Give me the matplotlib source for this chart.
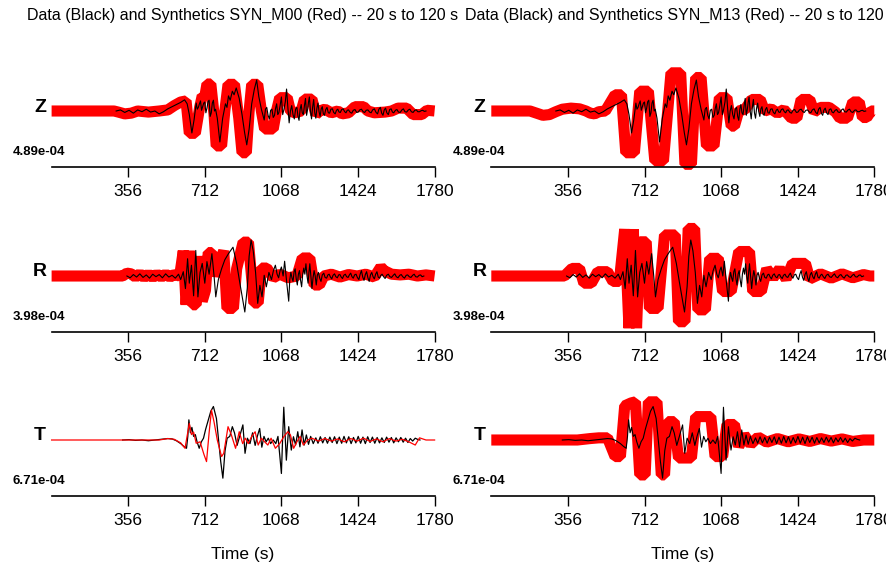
import matplotlib
matplotlib.use('Agg')
import matplotlib.pyplot as plt

plt.rcParams['font.family'] = ['Liberation Sans', 'DejaVu Sans']

# observed data (black), normalised amplitude, time in s
z_obs_t = [300, 320, 340, 360, 380, 400, 420, 440, 460, 480, 500, 520, 540, 560, 580, 600, 618, 630, 640, 652,
           662, 672, 677, 682, 687, 692, 697, 702, 707, 712, 717, 722, 727, 732, 737, 742, 747, 752, 757, 762,
           770, 782, 795, 808, 815, 822, 830, 840, 848, 858, 872, 885, 897, 907, 918, 930, 942, 953, 963, 975,
           988, 994, 1000, 1006, 1012, 1018, 1024, 1030, 1036, 1041, 1046, 1051, 1056, 1062, 1068, 1074, 1080,
           1086, 1092, 1098, 1104, 1110, 1116, 1122, 1128, 1134, 1140, 1145, 1150, 1155, 1160, 1165, 1170, 1175,
           1180, 1185, 1190, 1194, 1198, 1203, 1208, 1213, 1218, 1223, 1228, 1233, 1238, 1243, 1248, 1253, 1258,
           1263, 1268, 1274, 1280, 1286, 1292, 1298, 1305, 1311, 1318, 1324, 1330, 1336, 1342, 1348, 1355, 1362,
           1368, 1374, 1380, 1388, 1395, 1402, 1410, 1418, 1425, 1432, 1440, 1448, 1455, 1462, 1470, 1478, 1485,
           1492, 1500, 1508, 1515, 1521, 1528, 1534, 1540, 1546, 1552, 1558, 1565, 1571, 1578, 1584, 1590, 1598,
           1605, 1612, 1620, 1628, 1635, 1642, 1650, 1658, 1665, 1672, 1680, 1688, 1695, 1702, 1710, 1718, 1725,
           1732, 1740]
z_obs = [0.00, 0.03, -0.04, 0.02, -0.06, 0.03, -0.02, 0.05, -0.03, 0.00, -0.08, -0.02, 0.06, 0.12, 0.18, 0.24,
         0.31, 0.20, -0.10, -0.61, -0.25, 0.22, 0.05, 0.10, 0.20, 0.28, 0.02, 0.12, 0.22, 0.25, -0.05, 0.08,
         0.26, 0.30, -0.15, -0.05, 0.22, 0.30, 0.00, 0.05, -0.20, -0.86, -0.20, 0.20, 0.10, 0.42, 0.30, 0.55,
         0.45, 0.64, 0.35, -0.10, -0.60, -0.94, -0.50, 0.20, 0.60, 0.86, 0.40, 0.05, -0.25, 0.05, 0.10, -0.12,
         -0.22, 0.02, 0.05, -0.18, -0.12, 0.08, 0.20, -0.10, -0.05, 0.15, 0.39, -0.10, 0.05, 0.25, 0.61, 0.10,
         -0.33, 0.00, 0.15, -0.10, -0.22, 0.05, 0.10, -0.15, -0.26, 0.05, 0.18, -0.05, -0.10, 0.15, 0.35, -0.12,
         0.05, 0.25, 0.39, 0.00, -0.22, 0.10, 0.32, -0.05, -0.20, 0.08, 0.22, -0.02, -0.15, 0.06, 0.12, -0.08,
         -0.12, 0.04, 0.10, -0.05, -0.06, 0.05, 0.06, -0.04, -0.08, 0.02, 0.05, -0.03, -0.04, 0.04, 0.06, -0.02,
         -0.05, 0.02, 0.03, -0.04, -0.06, 0.02, 0.04, -0.04, -0.03, 0.03, 0.05, -0.02, -0.04, 0.02, 0.03, -0.03,
         -0.05, 0.03, 0.06, -0.04, -0.08, 0.05, 0.10, -0.06, -0.12, 0.03, 0.08, -0.05, -0.10, 0.04, 0.06, -0.03,
         -0.05, 0.02, 0.04, -0.03, -0.04, 0.03, 0.06, -0.02, -0.03, 0.03, 0.05, -0.02, -0.04, 0.02, 0.03, -0.02,
         -0.02, 0.01, 0.02, -0.01, 0.00]

r_obs_t = [350, 365, 380, 395, 410, 425, 440, 455, 470, 485, 500, 515, 530, 545, 560, 575, 590, 600, 612, 622,
           632, 640, 650, 660, 670, 680, 690, 700, 712, 722, 732, 745, 755, 763, 775, 790, 805, 822, 843, 860,
           875, 888, 898, 910, 918, 927, 937, 948, 958, 968, 978, 988, 998, 1010, 1022, 1031, 1040, 1048, 1055,
           1062, 1068, 1076, 1083, 1093, 1102, 1107, 1112, 1117, 1122, 1127, 1132, 1137, 1142, 1147, 1152, 1157,
           1162, 1167, 1172, 1177, 1182, 1187, 1192, 1196, 1200, 1205, 1210, 1215, 1220, 1225, 1230, 1235, 1240,
           1246, 1252, 1258, 1265, 1271, 1278, 1284, 1290, 1296, 1302, 1308, 1315, 1321, 1328, 1334, 1340, 1346,
           1352, 1358, 1365, 1371, 1378, 1384, 1390, 1396, 1402, 1408, 1415, 1421, 1428, 1434, 1440, 1446, 1452,
           1458, 1464, 1470, 1476, 1482, 1488, 1494, 1500, 1506, 1512, 1518, 1524, 1530, 1536, 1543, 1550, 1557,
           1565, 1572, 1580, 1588, 1595, 1602, 1610, 1618, 1625, 1632, 1640, 1648, 1655, 1662, 1670, 1678, 1685,
           1692, 1700, 1708, 1715, 1722, 1730]
r_obs = [0.00, -0.05, 0.04, -0.03, 0.06, -0.04, 0.03, -0.06, 0.05, -0.02, 0.04, -0.05, 0.06, -0.03, 0.02, -0.06,
         0.05, -0.10, 0.12, -0.35, 0.48, -0.20, 0.30, -0.55, 0.71, -0.58, 0.10, 0.35, -0.20, 0.40, 0.05, 0.62,
         0.00, -0.58, -0.10, 0.20, 0.45, 0.62, 0.80, 0.35, -0.20, -0.65, -1.00, -0.30, 0.55, 1.00, 0.70, 0.10,
         -0.76, -0.26, -0.58, 0.02, -0.30, 0.10, -0.10, 0.15, 0.30, 0.05, -0.05, 0.15, 0.25, 0.00, 0.41, -0.20,
         -0.70, -0.10, 0.10, -0.05, -0.15, 0.12, 0.20, -0.08, -0.25, 0.05, 0.15, -0.12, -0.30, 0.05, 0.22, 0.05,
         0.34, 0.00, -0.20, 0.10, 0.34, 0.00, -0.35, -0.05, 0.15, 0.00, -0.25, 0.02, 0.10, -0.06, -0.15, 0.03,
         0.08, -0.04, -0.06, 0.03, 0.05, -0.03, -0.08, 0.02, 0.06, -0.02, -0.05, 0.03, 0.04, -0.03, -0.07, 0.02,
         0.05, -0.02, -0.04, 0.03, 0.08, -0.02, -0.06, 0.03, 0.05, -0.04, -0.10, 0.05, 0.15, -0.03, -0.12, 0.04,
         0.12, -0.05, -0.15, 0.03, 0.10, -0.02, -0.08, 0.05, 0.12, -0.03, -0.06, 0.02, 0.05, -0.02, -0.07, 0.02,
         0.05, -0.02, -0.04, 0.02, 0.06, -0.02, -0.05, 0.02, 0.04, -0.02, -0.06, 0.02, 0.03, -0.02, -0.04, 0.02,
         0.05, -0.02, -0.03, 0.02, 0.03, -0.02, 0.00]

t_obs_t = [330, 360, 390, 420, 450, 480, 510, 540, 560, 580, 600, 615, 627, 633, 638, 645, 652, 660, 668, 676,
           686, 696, 706, 716, 728, 740, 752, 766, 776, 786, 796, 806, 816, 828, 840, 850, 862, 874, 889, 899,
           910, 922, 934, 946, 956, 967, 977, 987, 997, 1007, 1018, 1030, 1042, 1052, 1060, 1068, 1074, 1079,
           1091, 1102, 1114, 1124, 1134, 1144, 1154, 1164, 1174, 1184, 1194, 1204, 1216, 1228, 1238, 1249, 1260,
           1271, 1282, 1293, 1304, 1315, 1326, 1337, 1348, 1359, 1370, 1381, 1392, 1403, 1414, 1425, 1436, 1447,
           1458, 1469, 1480, 1491, 1502, 1513, 1524, 1535, 1546, 1557, 1568, 1579, 1590, 1601, 1612, 1623, 1634,
           1645, 1656, 1667, 1678, 1690, 1700, 1712]
t_obs = [0.00, 0.01, -0.01, 0.00, -0.02, 0.00, 0.02, 0.04, 0.03, -0.02, -0.10, -0.18, -0.23, 0.10, 0.56, 0.20,
         0.35, 0.10, 0.15, -0.05, -0.23, -0.05, 0.05, 0.30, 0.55, 0.80, 0.93, 0.60, 0.00, -0.60, -1.06, -0.30,
         0.05, 0.10, 0.37, 0.20, -0.15, 0.10, 0.42, -0.37, 0.05, -0.10, 0.20, -0.15, 0.10, 0.32, -0.20, 0.10,
         -0.05, 0.05, -0.10, 0.00, -0.10, 0.10, -0.40, -0.93, 0.10, 0.91, -0.56, 0.37, -0.28, 0.09, -0.14, 0.23,
         -0.19, 0.28, -0.14, 0.14, -0.12, 0.10, -0.10, 0.06, -0.09, 0.09, -0.08, 0.07, -0.09, 0.08, -0.07, 0.09,
         -0.10, 0.08, -0.09, 0.10, -0.08, 0.09, -0.10, 0.07, -0.08, 0.10, -0.09, 0.08, -0.10, 0.09, -0.07, 0.08,
         -0.09, 0.07, -0.08, 0.06, -0.07, 0.08, -0.06, 0.07, -0.08, 0.06, -0.05, 0.07, -0.06, 0.05, -0.07, 0.04,
         -0.03, 0.05, 0.02, 0.00]

# synthetics SYN_M00 (red, left column)
z_m00_t = [0, 290, 310, 340, 370, 400, 450, 500, 540, 570, 600, 625, 640, 668, 688, 700, 712, 722, 740, 755,
           765, 790, 805, 820, 850, 870, 885, 905, 918, 930, 958, 975, 990, 1030, 1045, 1060, 1095, 1110, 1130,
           1160, 1175, 1210, 1228, 1245, 1270, 1300, 1330, 1350, 1380, 1410, 1450, 1470, 1500, 1550, 1580, 1610,
           1650, 1680, 1720, 1745, 1780]
z_m00 = [0.00, 0.00, -0.03, -0.08, -0.06, 0.00, -0.03, 0.00, 0.03, 0.15, 0.25, 0.28, -0.62, -0.62, 0.10, 0.42,
         0.40, 0.75, 0.75, -0.10, -0.97, -0.97, 0.00, 0.74, 0.74, -0.20, -1.16, -1.16, 0.00, 0.74, 0.74, 0.00,
         -0.50, -0.50, 0.00, 0.37, 0.37, 0.00, -0.05, 0.00, 0.33, 0.33, -0.10, 0.00, 0.05, -0.05, 0.00, -0.08,
         -0.05, 0.12, 0.12, 0.00, -0.05, -0.03, 0.00, 0.08, 0.08, -0.10, -0.10, 0.02, 0.00]

r_m00_t = [0, 330, 350, 370, 390, 410, 430, 450, 470, 490, 510, 530, 550, 570, 595, 612, 625, 640, 655, 672,
           685, 700, 715, 728, 745, 760, 800, 815, 845, 860, 890, 915, 940, 960, 975, 1000, 1030, 1060, 1100,
           1140, 1165, 1200, 1220, 1245, 1265, 1300, 1340, 1380, 1420, 1460, 1500, 1530, 1545, 1580, 1620, 1660,
           1700, 1740, 1780]
r_m00 = [0.00, 0.00, 0.08, 0.06, -0.03, 0.06, -0.04, 0.05, -0.04, 0.05, -0.03, 0.05, -0.03, 0.04, 0.00, 0.70,
         -0.80, 0.70, -0.80, -0.80, 0.55, -0.70, -0.40, 0.65, 0.65, 0.00, 0.70, -0.90, -0.90, 0.20, 0.94, 0.94,
         -0.75, -0.75, 0.22, 0.22, -0.05, 0.05, -0.05, 0.00, 0.50, 0.50, -0.25, -0.25, 0.00, 0.05, -0.03, 0.04,
         0.00, 0.05, -0.03, 0.25, 0.15, 0.05, 0.03, 0.05, 0.00, 0.03, 0.00]

t_m00_t = [0, 500, 540, 570, 600, 620, 640, 650, 660, 672, 690, 708, 720, 732, 743, 755, 770, 790, 800, 820,
           835, 855, 872, 888, 900, 914, 930, 946, 960, 975, 990, 1005, 1020, 1040, 1060, 1080, 1098, 1110, 1125,
           1140, 1155, 1170, 1190, 1210, 1240, 1270, 1300, 1330, 1360, 1390, 1420, 1450, 1480, 1510, 1540, 1570,
           1600, 1630, 1660, 1690, 1710, 1725, 1740, 1780]
t_m00 = [0.00, 0.00, 0.04, 0.02, -0.08, -0.23, 0.46, 0.15, 0.22, -0.09, -0.05, -0.40, -0.60, 0.20, 0.83, 0.50,
         0.00, -0.46, -0.37, 0.37, 0.15, -0.23, 0.23, -0.10, 0.05, -0.10, 0.10, 0.23, -0.14, 0.05, -0.05, -0.14,
         0.05, -0.23, -0.10, 0.10, 0.23, 0.14, -0.23, -0.05, 0.10, -0.14, 0.00, 0.05, -0.03, 0.04, -0.03, 0.03,
         -0.05, 0.04, -0.03, 0.05, -0.04, 0.03, -0.05, 0.04, -0.03, 0.02, -0.05, -0.14, 0.06, 0.03, 0.00, 0.00]

# synthetics SYN_M13 (red, right column)
z_m13_t = [0, 180, 210, 240, 270, 300, 330, 370, 410, 440, 460, 480, 500, 530, 575, 605, 625, 665, 690, 730,
           760, 800, 835, 880, 900, 930, 950, 975, 1000, 1035, 1060, 1095, 1115, 1130, 1150, 1180, 1210, 1250,
           1270, 1300, 1330, 1360, 1395, 1420, 1440, 1480, 1500, 1530, 1570, 1600, 1620, 1655, 1680, 1710, 1725,
           1745, 1765, 1780]
z_m13 = [0.00, 0.00, -0.06, -0.12, -0.10, -0.02, 0.05, 0.08, 0.06, 0.00, -0.06, -0.08, -0.02, 0.00, 0.45, 0.45,
         -1.16, -1.16, 0.55, 0.55, -1.39, -1.39, 1.06, 1.06, -1.48, -1.48, 0.93, 0.93, -0.97, -0.97, 0.37, 0.37,
         -0.42, -0.42, 0.00, 0.05, 0.32, 0.32, 0.00, 0.06, -0.06, 0.04, -0.20, -0.20, 0.32, 0.32, -0.03, 0.10,
         0.10, -0.03, -0.20, -0.20, 0.25, 0.25, -0.18, -0.18, 0.00, 0.00]

r_m13_t = [0, 340, 375, 410, 430, 465, 495, 540, 565, 595, 620, 640, 660, 675, 690, 720, 735, 775, 805, 855,
           870, 900, 915, 945, 960, 995, 1015, 1055, 1075, 1115, 1150, 1200, 1215, 1255, 1280, 1310, 1340, 1370,
           1400, 1460, 1480, 1530, 1580, 1630, 1680, 1730, 1760, 1780]
r_m13 = [0.00, 0.00, 0.21, 0.21, -0.20, -0.20, 0.12, 0.12, -0.15, -0.15, 1.30, -1.45, 1.30, -1.45, 0.95, 0.95,
         -0.90, -0.90, 1.14, 1.14, -1.27, -1.27, 1.32, 1.32, -0.94, -0.94, 0.49, 0.49, -0.43, -0.43, 0.68, 0.68,
         -0.43, -0.43, 0.20, -0.05, 0.20, -0.08, 0.35, 0.35, -0.08, 0.06, -0.06, 0.06, -0.05, 0.04, 0.00, 0.00]

t_m13_t = [0, 400, 460, 500, 540, 575, 600, 620, 650, 670, 690, 715, 730, 770, 790, 805, 820, 850, 870, 930,
           950, 1020, 1040, 1075, 1095, 1130, 1150, 1175, 1205, 1240, 1280, 1330, 1380, 1430, 1480, 1530, 1580,
           1630, 1680, 1730, 1780]
t_m13 = [0.00, 0.00, 0.04, 0.06, 0.06, -0.46, -0.46, 0.95, 1.03, 1.06, -0.97, -0.97, 1.06, 1.06, -0.97, -0.97,
         0.51, 0.51, -0.50, -0.50, 0.65, 0.65, -0.46, -0.46, 0.43, 0.43, -0.18, 0.14, -0.12, 0.08, -0.06, 0.04,
         -0.05, 0.03, -0.04, 0.04, -0.03, 0.03, -0.04, 0.00, 0.00]

components = ['Z', 'R', 'T']
amp_labels = ['4.89e-04', '3.98e-04', '6.71e-04']
obs = [(z_obs_t, z_obs), (r_obs_t, r_obs), (t_obs_t, t_obs)]
syn = {
    'SYN_M00': [(z_m00_t, z_m00), (r_m00_t, r_m00), (t_m00_t, t_m00)],
    'SYN_M13': [(z_m13_t, z_m13), (r_m13_t, r_m13), (t_m13_t, t_m13)],
}
thick_red = {'SYN_M00': [True, True, False], 'SYN_M13': [True, True, True]}
xticks = [356, 712, 1068, 1424, 1780]

W, H = 886, 569
fig = plt.figure(figsize=(W / 100, H / 100), dpi=100)

col_x0 = {'SYN_M00': 51.6, 'SYN_M13': 491.3}
axis_y = [167, 332, 496]
panel_w, panel_h = 383, 110
unit_px = 36.0
base_px = 56.0

for model, title_x in [('SYN_M00', 27), ('SYN_M13', 465)]:
    fig.text(title_x / W, 1 - 15 / H,
             f'Data (Black) and Synthetics {model} (Red) -- 20 s to 120 s',
             fontsize=11.5, ha='left', va='center')
    x0 = col_x0[model]
    for i, comp in enumerate(components):
        ax = fig.add_axes([x0 / W, 1 - axis_y[i] / H, panel_w / W, panel_h / H])
        ax.patch.set_alpha(0)
        st, sa = syn[model][i]
        ot, oa = obs[i]
        if thick_red[model][i]:
            ax.plot(st, sa, color='red', lw=8, solid_joinstyle='bevel',
                    solid_capstyle='butt', clip_on=False, zorder=1)
            ax.plot(ot, oa, color='black', lw=0.8, clip_on=False, zorder=2)
        else:
            ax.plot(ot, oa, color='black', lw=0.9, clip_on=False, zorder=1)
            ax.plot(st, sa, color='red', lw=0.9, clip_on=False, zorder=2)
        ax.set_xlim(0, 1780)
        ax.set_ylim(-base_px / unit_px, (panel_h - base_px) / unit_px)
        for s in ['top', 'left', 'right']:
            ax.spines[s].set_visible(False)
        ax.spines['bottom'].set_linewidth(1.2)
        ax.set_yticks([])
        ax.set_xticks(xticks)
        ax.set_xticklabels([str(v) for v in xticks])
        ax.tick_params(axis='x', length=7, width=1, labelsize=12.5, pad=5)
        if i == 2:
            ax.set_xlabel('Time (s)', fontsize=12.5, labelpad=14)
        by = axis_y[i] - base_px
        fig.text((x0 - 11.5) / W, 1 - (by - 4) / H, comp, fontsize=14,
                 fontweight='bold', ha='center', va='center')
        fig.text((x0 - 12.5) / W, 1 - (by + 41) / H, amp_labels[i], fontsize=9.5,
                 fontweight='bold', ha='center', va='center')

fig.savefig('out.png', dpi=100)
